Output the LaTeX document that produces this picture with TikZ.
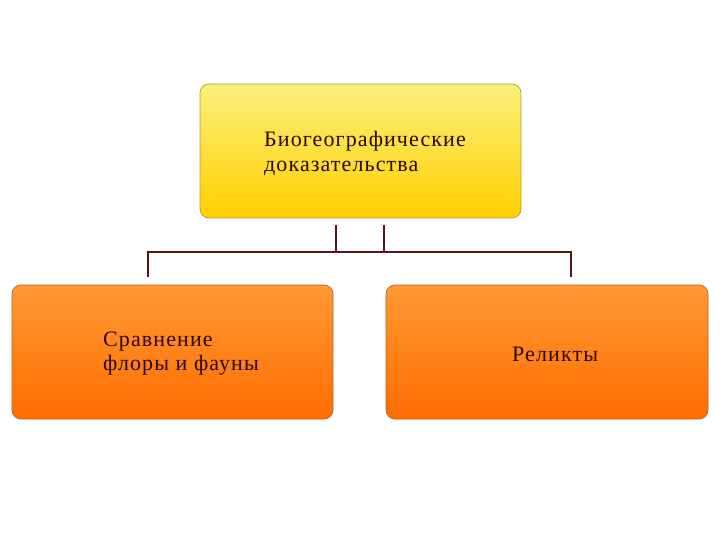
\documentclass[tikz,border=0pt]{standalone}
\usepackage{fontspec}
\setmainfont{Liberation Serif}[LetterSpace=5]
\begin{document}
\begin{tikzpicture}[x=1pt,y=-1pt,
  ybox/.style={draw=ybrd, line width=0.7pt, rounded corners=9pt, top color=ytop, bottom color=ybot},
  obox/.style={draw=obrd, line width=0.7pt, rounded corners=9pt, top color=otop, bottom color=obot},
  lbl/.style={font=\fontsize{22}{24.5}\selectfont, align=left, anchor=base west, inner sep=0pt, text=txtcol},
  conn/.style={draw=conncol, line width=2pt}]
\definecolor{ytop}{HTML}{FBEF7C}
\definecolor{ybot}{HTML}{FFD000}
\definecolor{ybrd}{HTML}{B89A2A}
\definecolor{otop}{HTML}{FF9A35}
\definecolor{obot}{HTML}{FF6C00}
\definecolor{obrd}{HTML}{C0601A}
\definecolor{conncol}{HTML}{5A1212}
\definecolor{txtcol}{HTML}{2A0A00}
\useasboundingbox (0,0) rectangle (720,540);
\path[ybox] (200,84) rectangle (521,218);
\path[obox] (12,285) rectangle (333,419);
\path[obox] (386,285) rectangle (708,419);
\node[lbl] (ttxt) at (264,171.5) {Биогеографические\\доказательства};
\node[lbl] (ltxt) at (103,370.5) {Сравнение\\флоры и фауны};
\node[lbl] (rtxt) at (512,361) {Реликты};
\coordinate (a1) at (336,225);
\coordinate (a2) at (384,225);
\coordinate (b1) at (148,277);
\coordinate (b2) at (571,277);
\draw[conn] (a2) -- (384,252) -- (148,252) -- (b1);
\draw[conn] (a1) -- (336,252) -- (571,252) -- (b2);
\end{tikzpicture}
\end{document}
